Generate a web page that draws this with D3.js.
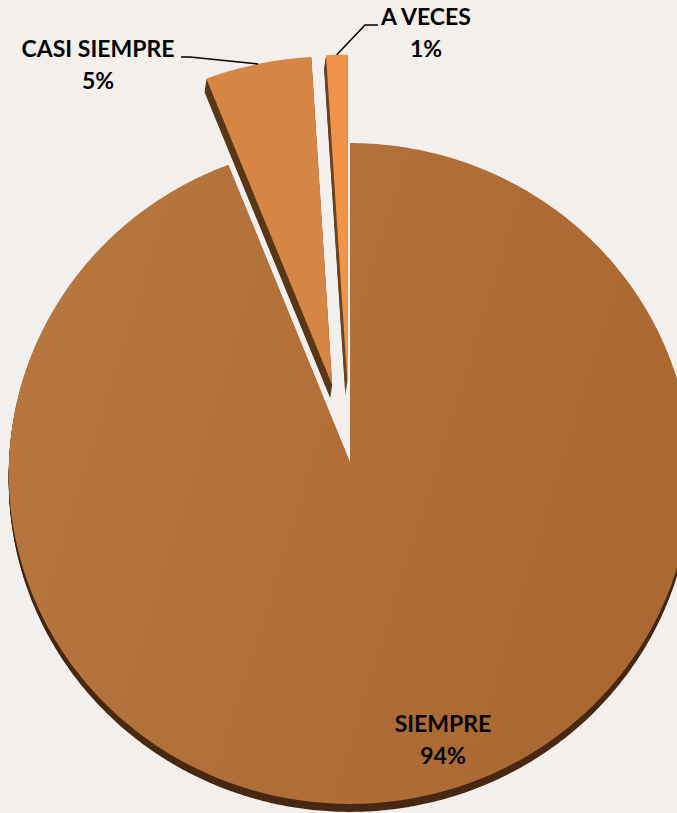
<!DOCTYPE html>
<html>
<head>
<meta charset="utf-8">
<script src="https://cdn.jsdelivr.net/npm/d3@7"></script>
<style>
  html, body { margin: 0; padding: 0; background: #f2efec; }
  svg { display: block; }
  text { font-family: Lato, "Open Sans", sans-serif; font-weight: 700; }
</style>
</head>
<body>
<script>
// Survey answers and their shares (percent)
const categories = ["SIEMPRE", "CASI SIEMPRE", "A VECES"];
const values = [94, 5, 1];

// Per-slice rendering: explode distance (disc radii), top-face colour, side-wall colour
const explode = [0, 0.24, 0.24];
const faceColors = ["url(#mainFace)", "#d58544", "#f0944a"];
const wallColors = ["#472a13", "#5a3919", "#6b4522"];

const W = 677, H = 813;

// Tilted-disc projection with a little perspective (v > 0 is towards the viewer)
const CX = 350, CY = 462, A = 341, B = 330, K = 0.0348;
function proj(u, v) {
  const d = 1 - K * v;
  return [CX + A * u / d, CY + B * v / d];
}

const svg = d3.select("body").append("svg")
  .attr("width", W).attr("height", H);

svg.append("rect").attr("width", W).attr("height", H).attr("fill", "#f2efec");

const defs = svg.append("defs");
const g1 = defs.append("linearGradient").attr("id", "mainFace")
  .attr("x1", 0).attr("y1", 0).attr("x2", 1).attr("y2", 0.3);
g1.append("stop").attr("offset", 0).attr("stop-color", "#b8783f");
g1.append("stop").attr("offset", 0.5).attr("stop-color", "#b27038");
g1.append("stop").attr("offset", 1).attr("stop-color", "#ab6831");

const data = categories.map((c, i) => ({ name: c, value: values[i], i }));
const pie = d3.pie().sort(null).value(d => d.value);
const arcs = pie(data);

const line = d3.line();

function slicePoints(a, rho) {
  const mid = (a.startAngle + a.endAngle) / 2;
  const e = explode[a.data.i];
  const u0 = e * Math.sin(mid), v0 = -e * Math.cos(mid);
  const pts = [proj(u0, v0)];
  const n = Math.max(2, Math.ceil((a.endAngle - a.startAngle) / 0.01));
  for (let k = 0; k <= n; k++) {
    const t = a.startAngle + (a.endAngle - a.startAngle) * k / n;
    pts.push(proj(u0 + rho * Math.sin(t), v0 - rho * Math.cos(t)));
  }
  return pts;
}

function radiusFor(a) { return explode[a.data.i] > 0 ? 1.05 : 1; }

// Side walls: the slice swept downward
const wallVec = i => explode[i] > 0 ? [-2, 13] : [0, 8];

arcs.forEach(a => {
  const i = a.data.i;
  const pts = slicePoints(a, radiusFor(a));
  const d = line(pts) + "Z";
  const [wx, wy] = wallVec(i);
  const steps = Math.ceil(Math.hypot(wx, wy));
  const wall = svg.append("g");
  for (let s = steps; s >= 1; s--) {
    wall.append("path")
      .attr("d", d)
      .attr("transform", `translate(${(wx * s / steps).toFixed(2)},${(wy * s / steps).toFixed(2)})`)
      .attr("fill", wallColors[i]);
  }
  svg.append("path").attr("d", d).attr("fill", faceColors[i]);
});

// Labels
const fmt = v => v + "%";
const labelLayout = {
  "SIEMPRE": { x: 443, y: 732 },
  "CASI SIEMPRE": { x: 98, y: 57, elbow: [190, 57], lineStart: [181, 57] },
  "A VECES": { x: 426, y: 25, elbow: [365, 25], lineStart: [378, 25] }
};

arcs.forEach(a => {
  const L = labelLayout[a.data.name];
  if (L.elbow) {
    const mid = (a.startAngle + a.endAngle) / 2;
    const e = explode[a.data.i], r = radiusFor(a);
    const p = proj((e + r) * Math.sin(mid), -(e + r) * Math.cos(mid));
    svg.append("path")
      .attr("d", line([L.lineStart, L.elbow, p]))
      .attr("fill", "none").attr("stroke", "#000").attr("stroke-width", 1.6);
  }
  const t = svg.append("text")
    .attr("x", L.x).attr("y", L.y)
    .attr("text-anchor", "middle")
    .attr("font-size", 23)
    .attr("fill", "#000");
  t.append("tspan").attr("x", L.x).text(a.data.name);
  t.append("tspan").attr("x", L.x).attr("dy", 32).text(fmt(a.data.value));
});
</script>
</body>
</html>
